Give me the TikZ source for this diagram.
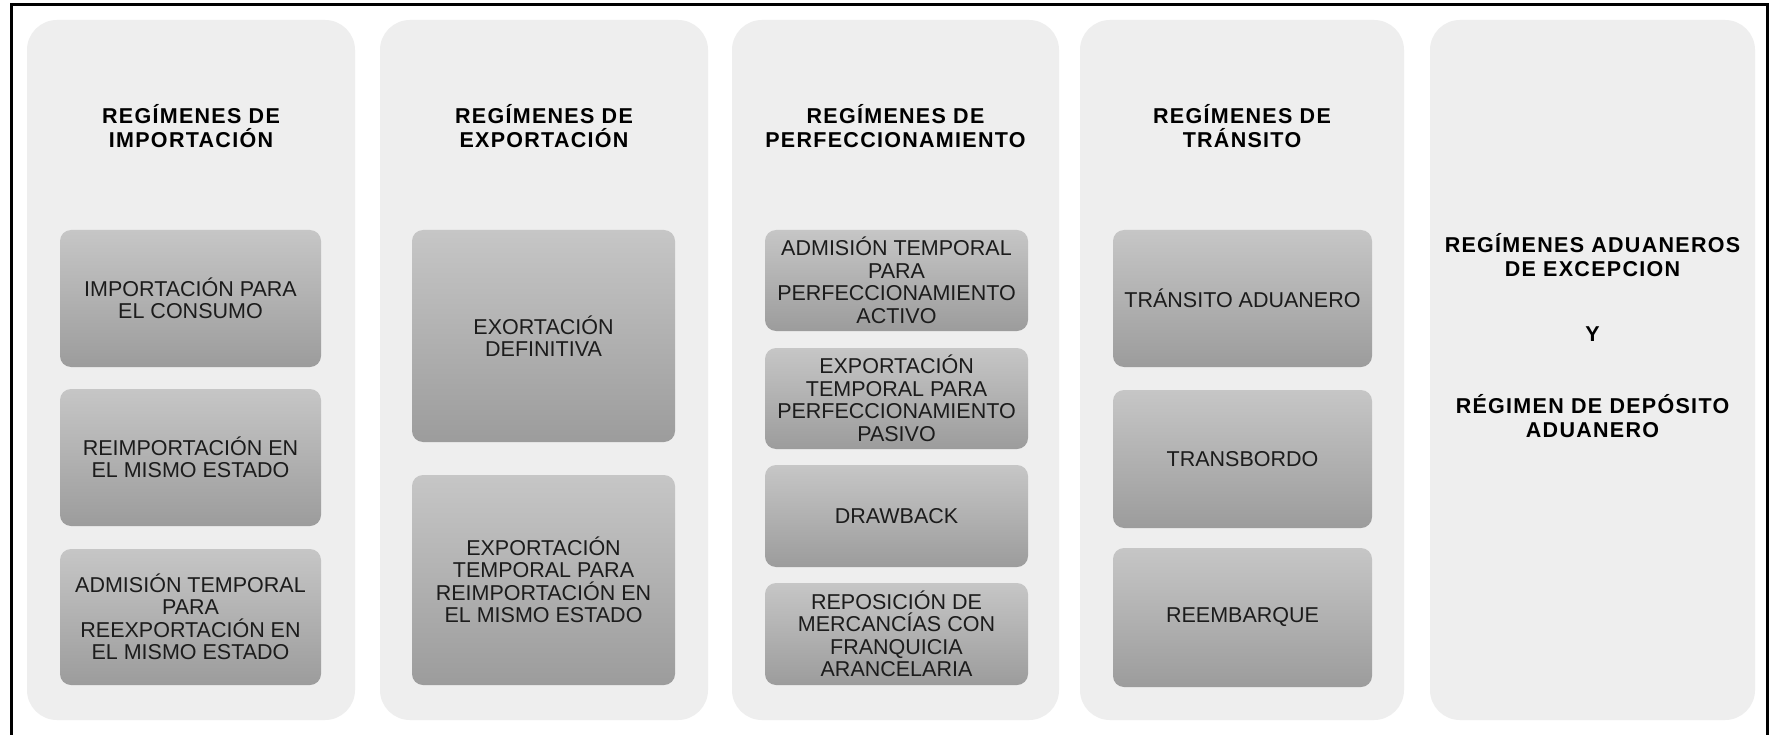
\documentclass[tikz,border=0pt]{standalone}
\usepackage{fontspec}
\setmainfont{Liberation Sans}
\newfontfamily\hdrfont[LetterSpace=6]{Liberation Sans}
\definecolor{colbg}{RGB}{238,238,238}
\definecolor{boxtop}{RGB}{198,198,198}
\definecolor{boxbot}{RGB}{156,156,156}
\definecolor{txtc}{RGB}{28,28,28}
\tikzset{
  colpanel/.style={draw=none, fill=colbg, rounded corners=30pt, inner sep=0pt},
  itembox/.style={draw=none, top color=boxtop, bottom color=boxbot, rounded corners=11pt,
    inner sep=0pt, align=center, text=txtc, font=\fontsize{21.5}{22.5}\selectfont},
  header/.style={align=center, text=black, inner sep=0pt, font=\hdrfont\bfseries\fontsize{21.5}{24.5}\selectfont},
}
\begin{document}
\begin{tikzpicture}[x=1pt,y=-1pt]
\useasboundingbox (0,0) rectangle (1771,735);
\fill[white] (0,0) rectangle (1771,735);
% frame
\draw[line width=3pt] (11,736) -- (11,5) -- (1767,5) -- (1767,736);

% columns
\node[colpanel, minimum width=328pt, minimum height=700pt] (c1) at (191,370) {};
\node[colpanel, minimum width=328pt, minimum height=700pt] (c2) at (544,370) {};
\node[colpanel, minimum width=327pt, minimum height=700pt] (c3) at (895.5,370) {};
\node[colpanel, minimum width=324pt, minimum height=700pt] (c4) at (1242,370) {};
\node[colpanel, minimum width=325pt, minimum height=700pt] (c5) at (1592.5,370) {};

% headers
\node[header] (h1) at (191,126) {REGÍMENES DE\\IMPORTACIÓN};
\node[header] (h2) at (544,126) {REGÍMENES DE\\EXPORTACIÓN};
\node[header] (h3) at (895.5,126) {REGÍMENES DE\\PERFECCIONAMIENTO};
\node[header] (h4) at (1242,126) {REGÍMENES DE\\TRÁNSITO};
\node[header] (h5a) at (1592.5,255) {REGÍMENES ADUANEROS\\DE EXCEPCION};
\node[header] (h5b) at (1592.5,334) {Y};
\node[header] (h5c) at (1592.5,416) {RÉGIMEN DE DEPÓSITO\\ADUANERO};

% column 1
\node[itembox, minimum width=261pt, minimum height=137pt] (a1) at (190.5,298.5) {IMPORTACIÓN PARA\\EL CONSUMO};
\node[itembox, minimum width=261pt, minimum height=137pt] (a2) at (190.5,457.5) {REIMPORTACIÓN EN\\EL MISMO ESTADO};
\node[itembox, minimum width=261pt, minimum height=136pt] (a3) at (190.5,617) {ADMISIÓN TEMPORAL\\PARA\\REEXPORTACIÓN EN\\EL MISMO ESTADO};

% column 2
\node[itembox, minimum width=263pt, minimum height=212pt] (b1) at (543.5,336) {EXORTACIÓN\\DEFINITIVA};
\node[itembox, minimum width=263pt, minimum height=210pt] (b2) at (543.5,580) {EXPORTACIÓN\\TEMPORAL PARA\\REIMPORTACIÓN EN\\EL MISMO ESTADO};

% column 3
\node[itembox, minimum width=263pt, minimum height=101pt] (p1) at (896.5,280.5) {ADMISIÓN TEMPORAL\\PARA\\PERFECCIONAMIENTO\\ACTIVO};
\node[itembox, minimum width=263pt, minimum height=101pt] (p2) at (896.5,398.5) {EXPORTACIÓN\\TEMPORAL PARA\\PERFECCIONAMIENTO\\PASIVO};
\node[itembox, minimum width=263pt, minimum height=102pt] (p3) at (896.5,516) {DRAWBACK};
\node[itembox, minimum width=263pt, minimum height=102pt] (p4) at (896.5,634) {REPOSICIÓN DE\\MERCANCÍAS CON\\FRANQUICIA\\ARANCELARIA};

% column 4
\node[itembox, minimum width=259pt, minimum height=137pt] (t1) at (1242.5,298.5) {TRÁNSITO ADUANERO};
\node[itembox, minimum width=259pt, minimum height=138pt] (t2) at (1242.5,459) {TRANSBORDO};
\node[itembox, minimum width=259pt, minimum height=139pt] (t3) at (1242.5,617.5) {REEMBARQUE};
\end{tikzpicture}
\end{document}
